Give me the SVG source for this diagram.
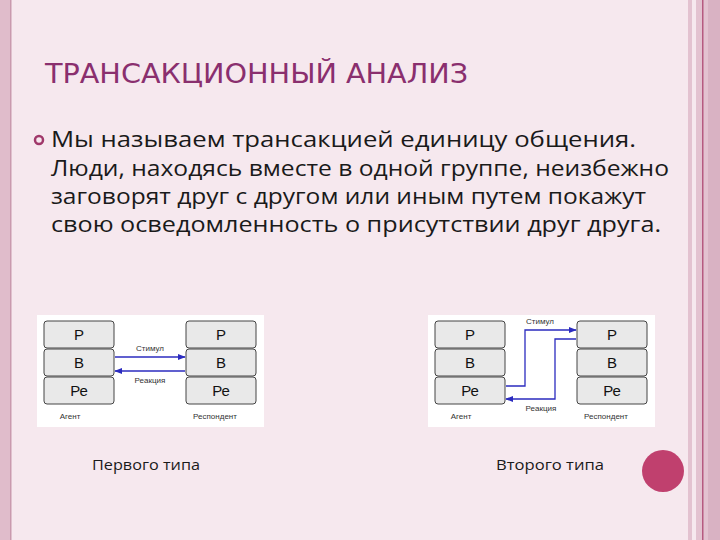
<svg xmlns="http://www.w3.org/2000/svg" width="720" height="540" viewBox="0 0 720 540">
<defs>
<style>
.t{font-family:"Open Sans","DejaVu Sans",sans-serif}
.body{font-size:21px;fill:#1a1a1a}
.box{fill:#e9e9e9;stroke:#444;stroke-width:1}
.bl{font-family:"Liberation Sans",Arial,sans-serif;font-size:15px;fill:#111;text-anchor:middle}
.sl{font-family:"Liberation Sans",Arial,sans-serif;font-size:8px;fill:#333;text-anchor:middle}
.ln{fill:none;stroke:#2b2bbf;stroke-width:1.3}
</style>
<marker id="ar" viewBox="0 0 10 10" refX="9" refY="5" markerWidth="6" markerHeight="6" orient="auto"><path d="M0,1 L10,5 L0,9 z" fill="#2b2bbf"/></marker>
<linearGradient id="bg" x1="0" y1="0" x2="0" y2="1"><stop offset="0" stop-color="#fafafa"/><stop offset="1" stop-color="#dcdcdc"/></linearGradient>
</defs>
<rect width="720" height="540" fill="#f6e8ee"/>
<rect x="0" y="0" width="10" height="540" fill="#e0bccb"/>
<rect x="10" y="0" width="1.5" height="540" fill="#c99aae"/>
<rect x="688" y="0" width="4" height="540" fill="#e3c2d0"/>
<rect x="696" y="0" width="24" height="540" fill="#e3c2d0"/>
<rect x="702" y="0" width="1.5" height="540" fill="#b65a80"/>
<rect x="708" y="0" width="12" height="540" fill="#d9b2c3"/>
<circle cx="663" cy="471" r="21" fill="#c0406e"/>
<text x="45" y="83" font-family="'DejaVu Sans Condensed','DejaVu Sans',sans-serif" font-weight="200" font-size="27" fill="#8a2f6e" textLength="423" lengthAdjust="spacingAndGlyphs">ТРАНСАКЦИОННЫЙ АНАЛИЗ</text>
<circle cx="39" cy="140" r="4" fill="none" stroke="#a0386a" stroke-width="2.5"/>
<g class="t body">
<text x="51" y="147" textLength="585" lengthAdjust="spacingAndGlyphs">Мы называем трансакцией единицу общения.</text>
<text x="51" y="176" textLength="618" lengthAdjust="spacingAndGlyphs">Люди, находясь вместе в одной группе, неизбежно</text>
<text x="51" y="204" textLength="595" lengthAdjust="spacingAndGlyphs">заговорят друг с другом или иным путем покажут</text>
<text x="51" y="232" textLength="610" lengthAdjust="spacingAndGlyphs">свою осведомленность о присутствии друг друга.</text>
</g>
<g id="diag1">
<rect x="37" y="315" width="227" height="112" fill="#fff"/>
<g id="d1-agent">
<rect class="box" x="44" y="321" width="70" height="27" rx="3" fill="url(#bg)"/><text class="bl" x="79" y="340">Р</text>
<rect class="box" x="44" y="349" width="70" height="27" rx="3" fill="url(#bg)"/><text class="bl" x="79" y="368">В</text>
<rect class="box" x="44" y="377" width="70" height="27" rx="3" fill="url(#bg)"/><text class="bl" x="79" y="396">Ре</text>
<text class="sl" x="70" y="419">Агент</text>
</g>
<g id="d1-resp">
<rect class="box" x="186" y="321" width="70" height="27" rx="3" fill="url(#bg)"/><text class="bl" x="221" y="340">Р</text>
<rect class="box" x="186" y="349" width="70" height="27" rx="3" fill="url(#bg)"/><text class="bl" x="221" y="368">В</text>
<rect class="box" x="186" y="377" width="70" height="27" rx="3" fill="url(#bg)"/><text class="bl" x="221" y="396">Ре</text>
<text class="sl" x="215" y="419">Респондент</text>
</g>
<g id="d1-conn">
<path class="ln" d="M115,357 H185" marker-end="url(#ar)"/>
<path class="ln" d="M185,371 H115" marker-end="url(#ar)"/>
<text class="sl" x="150" y="351">Стимул</text>
<text class="sl" x="150" y="383">Реакция</text>
</g>
</g>
<g id="diag2">
<rect x="428" y="315" width="227" height="112" fill="#fff"/>
<g id="d2-agent">
<rect class="box" x="435" y="321" width="70" height="27" rx="3" fill="url(#bg)"/><text class="bl" x="470" y="340">Р</text>
<rect class="box" x="435" y="349" width="70" height="27" rx="3" fill="url(#bg)"/><text class="bl" x="470" y="368">В</text>
<rect class="box" x="435" y="377" width="70" height="27" rx="3" fill="url(#bg)"/><text class="bl" x="470" y="396">Ре</text>
<text class="sl" x="461" y="419">Агент</text>
</g>
<g id="d2-resp">
<rect class="box" x="577" y="321" width="70" height="27" rx="3" fill="url(#bg)"/><text class="bl" x="612" y="340">Р</text>
<rect class="box" x="577" y="349" width="70" height="27" rx="3" fill="url(#bg)"/><text class="bl" x="612" y="368">В</text>
<rect class="box" x="577" y="377" width="70" height="27" rx="3" fill="url(#bg)"/><text class="bl" x="612" y="396">Ре</text>
<text class="sl" x="606" y="419">Респондент</text>
</g>
<g id="d2-conn">
<path class="ln" d="M506,386 H525 V330 H576" marker-end="url(#ar)"/>
<path class="ln" d="M576,339 H555 V399 H506" marker-end="url(#ar)"/>
<text class="sl" x="540" y="324">Стимул</text>
<text class="sl" x="541" y="411">Реакция</text>
</g>
</g>
<text class="t" x="92" y="470" font-size="14" fill="#1a1a1a" textLength="108" lengthAdjust="spacingAndGlyphs">Первого типа</text>
<text class="t" x="496" y="470" font-size="14" fill="#1a1a1a" textLength="108" lengthAdjust="spacingAndGlyphs">Второго типа</text>
</svg>
